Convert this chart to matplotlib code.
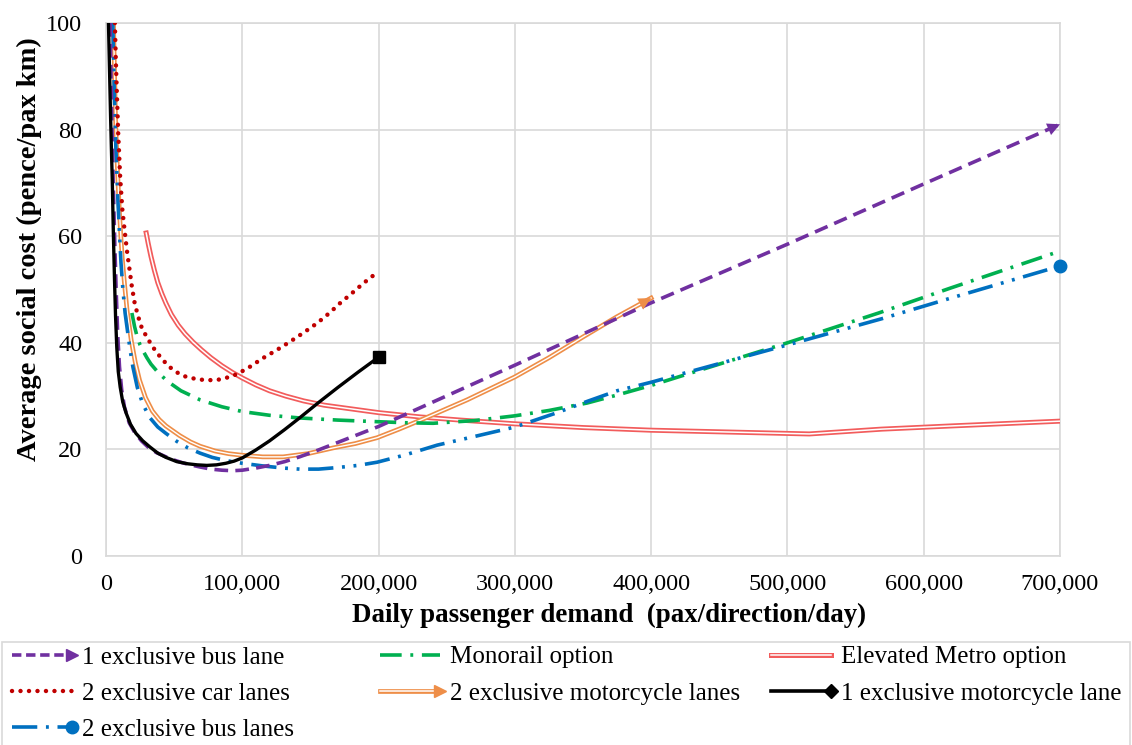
import numpy as np
import matplotlib
matplotlib.use("Agg")
import matplotlib.pyplot as plt
import matplotlib.patheffects as pe
from matplotlib.lines import Line2D
from matplotlib.patches import Rectangle
from matplotlib.legend_handler import HandlerBase
from matplotlib.ticker import FuncFormatter

plt.rcParams['font.family'] = ['Liberation Serif', 'DejaVu Serif']

# ---- data (pax/direction/day, pence/pax km) ----
bus1_x = [3000, 3800, 4600, 5500, 6500, 7500, 8600, 9900, 11500, 13500, 17000, 21000, 26000,
          31000, 37000, 44000, 50000, 56000, 62000, 69000, 77000, 85000, 93000, 100000, 110000,
          120000, 131000, 142000, 156000, 170000, 185000, 200000, 300000, 400000, 500000,
          600000, 700000]
bus1_y = [100, 88, 78, 68, 58, 49.5, 41.5, 35.5, 31.2, 28, 25, 23.2, 21.6,
          20.4, 19.4, 18.6, 18, 17.5, 17.1, 16.7, 16.3, 16.1, 16.0, 16.1, 16.5,
          17.0, 17.7, 18.6, 19.9, 21.3, 22.8, 24.3, 35.8, 47.5, 58.5,
          69.8, 81]

mono_x = [19000, 21000, 23000, 25000, 27600, 30000, 33000, 38000, 45000, 55000, 69000, 85000,
          100000, 120000, 142000, 170000, 199000, 220000, 240000, 270000, 300000, 325000,
          353000, 375000, 400000, 450000, 500000, 567000, 620000, 700000]
mono_y = [45.6, 43, 41, 39.6, 38.3, 37.2, 36, 34.5, 32.8, 31, 29.3, 28,
          27.1, 26.4, 25.9, 25.5, 25.2, 25, 24.9, 25.4, 26.3, 27.3,
          28.7, 30.2, 32, 36, 40, 45.6, 50.3, 57.2]

metro_x = [29500, 31000, 33000, 35500, 38000, 41000, 44000, 48000, 53000, 58000, 64000, 70000,
           77000, 85000, 93000, 100000, 110000, 120000, 132000, 145000, 160000, 180000, 200000,
           230000, 260000, 300000, 350000, 400000, 450000, 516000, 569000, 620000, 700000]
metro_y = [60.6, 58.6, 56.2, 53.6, 51.3, 49.2, 47.4, 45.3, 43.3, 41.7, 40.1, 38.7,
           37.2, 35.7, 34.4, 33.4, 32.1, 31.0, 30.0, 29.1, 28.3, 27.6, 26.9,
           26.1, 25.5, 24.8, 24.1, 23.6, 23.3, 22.9, 23.8, 24.4, 25.3]

car2_x = [6500, 7200, 8000, 9000, 10400, 12000, 13600, 15500, 17300, 19000, 21000, 23500,
          26000, 29000, 32000, 36000, 40600, 46000, 51600, 58000, 66000, 73000, 81000, 88000,
          96000, 105000, 115000, 125000, 135000, 145000, 155000, 164000, 172000, 180000,
          189000, 197000]
car2_y = [100, 93, 86.5, 79, 71, 65, 61.2, 57, 53.7, 50.5, 47.5, 45,
          43, 41.5, 40.2, 38.6, 37.1, 35.6, 34.5, 33.7, 33.2, 33.0, 33.0, 33.4,
          34.1, 35.4, 37.1, 38.6, 40.2, 41.9, 43.7, 45.6, 47.5, 49.2,
          51.2, 52.8]

moto2_x = [5500, 6300, 7000, 7700, 8500, 9200, 9900, 11000, 12000, 13600, 15500, 18500,
           21500, 24600, 29000, 34000, 39000, 44000, 54000, 62000, 69000, 80000, 90000,
           100000, 115000, 130000, 148000, 167000, 183000, 199000, 215000, 230000, 265000,
           300000, 325000, 350000, 375000, 400000]
moto2_y = [100, 90, 82, 77, 72, 68, 64.4, 59.5, 55.6, 51, 46, 40.5,
           36.3, 33, 29.7, 27.2, 25.6, 24.4, 22.6, 21.4, 20.6, 19.7, 19.2,
           18.9, 18.6, 18.6, 19.2, 20.3, 21.1, 22.2, 23.8, 25.4, 29.3,
           33.6, 37.2, 41.1, 44.9, 48.4]

moto1_x = [1800, 2600, 3400, 4000, 4600, 5400, 6250, 7000, 7900, 9000, 10400, 12300, 14800,
           18000, 22000, 27000, 32000, 38000, 44000, 52000, 60000, 67000, 74000, 81000, 88000,
           94000, 100000, 110000, 120000, 131000, 142000, 156000, 170000, 185000, 200000]
moto1_y = [100, 91, 82, 76, 70.5, 60.5, 51.8, 45, 39.2, 34.6, 31.7, 28.9, 26.8,
           24.7, 23, 21.6, 20.5, 19.3, 18.5, 17.7, 17.3, 17.1, 17, 17.1, 17.4,
           17.8, 18.4, 19.9, 21.6, 23.7, 25.9, 28.8, 31.6, 34.5, 37.3]

bus2_x = [5000, 6000, 7200, 8700, 9900, 11000, 12400, 14000, 16000, 18000, 19700, 23000,
          27000, 32000, 38000, 44000, 52000, 60000, 69000, 78000, 88000, 100000, 115000,
          130000, 142000, 156000, 170000, 185000, 199000, 220000, 243000, 270000, 300000,
          330000, 353000, 375000, 400000, 450000, 500000, 569000, 620000, 700000]
bus2_y = [100, 88, 77, 67, 60.5, 55, 50, 45.6, 41.8, 38.2, 35.5, 31.6,
          28.5, 26, 24.2, 23, 21.5, 20.3, 19.3, 18.5, 17.9, 17.4, 16.9,
          16.5, 16.3, 16.3, 16.6, 17.0, 17.6, 19.0, 20.8, 22.4, 24.2,
          26.8, 29.0, 31.0, 32.6, 36.1, 39.6, 44.5, 48.4, 54.4]

labels = ['1 exclusive bus lane', '2 exclusive car lanes', '2 exclusive bus lanes',
          'Monorail option', '2 exclusive motorcycle lanes',
          'Elevated Metro option', '1 exclusive motorcycle lane']

PURPLE = '#7030A0'
GREEN = '#00B050'
METRO = '#F25C5C'
CAR = '#C00000'
ORANGE = '#EE8E48'
BLUE = '#0070C0'

fig = plt.figure(figsize=(11.32, 7.45), dpi=100)
ax = fig.add_axes([106 / 1132, 189 / 745, 954 / 1132, 533 / 745])

double_metro = [pe.Stroke(linewidth=3.6, foreground=METRO), pe.Normal()]
double_orange = [pe.Stroke(linewidth=3.4, foreground=ORANGE), pe.Normal()]

h_metro, = ax.plot(metro_x, metro_y, color='white', lw=1.1, path_effects=double_metro, zorder=3)
h_moto2, = ax.plot(moto2_x, moto2_y, color='white', lw=1.0, path_effects=double_orange, zorder=3)
h_mono, = ax.plot(mono_x, mono_y, color=GREEN, lw=2.6, dashes=(6, 2.4, 0.8, 2.4), zorder=4)
h_bus2, = ax.plot(bus2_x, bus2_y, color=BLUE, lw=2.6, dashes=(7, 2.4, 0.8, 2.4, 0.8, 2.4),
                  zorder=4)
h_car2, = ax.plot(car2_x, car2_y, color=CAR, lw=3.2, dashes=(0.01, 1.9),
                  dash_capstyle='round', zorder=4)
h_bus1, = ax.plot(bus1_x, bus1_y, color=PURPLE, lw=2.6, dashes=(3.8, 2), zorder=5)
h_moto1, = ax.plot(moto1_x, moto1_y, color='black', lw=2.4, zorder=6)

# end markers
ax.plot(moto1_x[-1], moto1_y[-1], marker='s', ms=8, color='black', zorder=7, clip_on=False)
ax.plot(bus2_x[-1], bus2_y[-1], marker='o', ms=9, color=BLUE, zorder=7, clip_on=False)


def end_arrow(xs, ys, color):
    tip = (xs[-1], ys[-1])
    back = (xs[-1] - 0.1 * (xs[-1] - xs[-2]), ys[-1] - 0.1 * (ys[-1] - ys[-2]))
    ax.annotate('', xy=tip, xytext=back, annotation_clip=False,
                arrowprops=dict(arrowstyle='-|>,head_length=0.9,head_width=0.45',
                                color=color, lw=0.01, shrinkA=0, shrinkB=0), zorder=8)


end_arrow(bus1_x, bus1_y, PURPLE)
end_arrow(moto2_x, moto2_y, ORANGE)

ax.set_xlim(0, 700000)
ax.set_ylim(0, 100)
ax.set_xticks(np.arange(0, 700001, 100000))
ax.set_yticks(np.arange(0, 101, 20))
ax.xaxis.set_major_formatter(FuncFormatter(lambda v, p: f'{int(v):,}'))
ax.grid(True, color='#D9D9D9', lw=1.2)
ax.set_axisbelow(True)
for s in ax.spines.values():
    s.set_color('#D9D9D9')
    s.set_linewidth(1.2)
ax.tick_params(length=0, labelsize=17.5)
ax.tick_params(axis='x', pad=13)
ax.tick_params(axis='y', pad=17)
ax.set_xlabel('Daily passenger demand  (pax/direction/day)', fontsize=19.4, fontweight='bold')
ax.set_ylabel('Average social cost (pence/pax km)', fontsize=20.5, fontweight='bold')
ax.xaxis.set_label_coords(0.527, -0.088)
ax.yaxis.set_label_coords(-0.067, 0.576)


class EndHandle(HandlerBase):
    def __init__(self, style, marker=None, ms=8, double=None):
        super().__init__()
        self.style = style
        self.marker = marker
        self.ms = ms
        self.double = double

    def create_artists(self, legend, orig, xd, yd, w, h, fs, trans):
        y = (h - yd) / 2
        x0, x1 = -xd, w - xd
        arts = []
        if self.double:
            col, lw = self.double
            arts.append(Line2D([x0, x1], [y, y], color=col, lw=lw, transform=trans))
            arts.append(Line2D([x0, x1], [y, y], color='white', lw=1.1, transform=trans))
        else:
            arts.append(Line2D([x0, x1], [y, y], transform=trans, **self.style))
        if self.marker:
            col = self.double[0] if self.double else self.style['color']
            arts.append(Line2D([x1], [y], marker=self.marker, ms=self.ms, color=col,
                               ls='None', transform=trans))
        return arts


handles = [h_bus1, h_car2, h_bus2, h_mono, h_moto2, h_metro, h_moto1]
hmap = {
    h_bus1: EndHandle(dict(color=PURPLE, lw=2.6, dashes=(2.6, 1.3)), '>', 9),
    h_car2: EndHandle(dict(color=CAR, lw=3.2, dashes=(0.01, 1.9), dash_capstyle='round')),
    h_bus2: EndHandle(dict(color=BLUE, lw=2.6, dashes=(7, 2.4, 0.8, 2.4)), 'o', 9),
    h_mono: EndHandle(dict(color=GREEN, lw=2.6, dashes=(6, 2.4, 0.8, 2.4))),
    h_moto2: EndHandle(None, '>', 9, double=(ORANGE, 3.4)),
    h_metro: EndHandle(None, double=(METRO, 3.6)),
    h_moto1: EndHandle(dict(color='black', lw=2.6), 'D', 7),
}

# legend box across the bottom
fig.patches.append(Rectangle((2 / 1132, -0.01), 1128 / 1132, (745 - 642) / 745 + 0.01,
                             transform=fig.transFigure, facecolor='white',
                             edgecolor='#D9D9D9', lw=1.2))
col_x = [12, 380, 771]
col_sets = [(0, 3), (3, 5), (5, 7)]
for cx, (a, b) in zip(col_x, col_sets):
    fig.legend(handles=handles[a:b], labels=labels[a:b], handler_map=hmap,
               loc='upper left', bbox_to_anchor=(cx / 1132, 1 - 646 / 745),
               fontsize=18, frameon=False, handlelength=2.4, handletextpad=0.4,
               labelspacing=0.55, borderpad=0, borderaxespad=0)

fig.savefig('out.png', dpi=100)
